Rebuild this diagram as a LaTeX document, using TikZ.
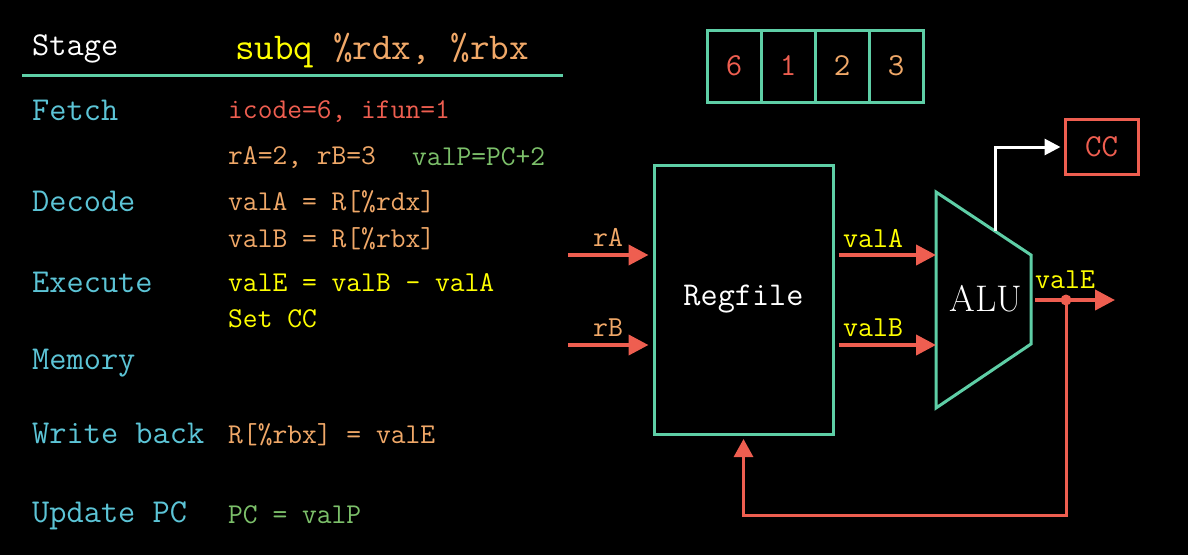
\documentclass[tikz,border=0pt]{standalone}
\usepackage{tikz}
\usetikzlibrary{arrows.meta}
\usepackage{xcolor}
\definecolor{lineteal}{RGB}{94,206,166}
\definecolor{stagecyan}{RGB}{92,196,214}
\definecolor{sigred}{RGB}{238,94,80}
\definecolor{sigorange}{RGB}{240,168,104}
\definecolor{sigyellow}{RGB}{255,255,0}
\definecolor{siggreen}{RGB}{124,192,106}

\begin{document}
\begin{tikzpicture}[x=1pt,y=-1pt]
  \tikzset{stagename/.style={anchor=base west,inner sep=0pt,text=stagecyan,font=\ttfamily\fontsize{33.4}{40}\selectfont}}
  \tikzset{stageval/.style={anchor=base west,inner sep=0pt,font=\ttfamily\fontsize{28.7}{34}\selectfont}}
  \tikzset{unitbox/.style={draw=lineteal,line width=3pt,inner sep=0pt}}
  \tikzset{sigwire/.style={draw=sigred,line width=4pt,-{Triangle[length=20pt,width=20pt]}}}
  \tikzset{fbwire/.style={draw=sigred,line width=3pt,-{Triangle[length=18pt,width=19pt]}}}
  \tikzset{siglabel/.style={inner sep=0pt,font=\ttfamily\fontsize{29}{34}\selectfont}}
  \fill[black] (0,0) rectangle (1188,555);
  \useasboundingbox (0,0) rectangle (1188,555);
  % stage table
  \node[stagename,text=white] (stagehead) at (32,55) {Stage};
  \node[anchor=base west,inner sep=0pt,font=\ttfamily\fontsize{38}{45}\selectfont] (instr) at (235,59)
    {\textcolor{sigyellow}{subq} \textcolor{sigorange}{\%rdx, \%rbx}};
  \coordinate (hrulel) at (22,75);
  \coordinate (hruler) at (563,75);
  \draw[lineteal,line width=3pt] (hrulel) -- (hruler);
  \node[stagename] (fetch) at (32,120) {Fetch};
  \node[stagename] (decode) at (32,211) {Decode};
  \node[stagename] (execute) at (32,292) {Execute};
  \node[stagename] (memory) at (32,369) {Memory};
  \node[stagename] (writeback) at (32,443) {Write back};
  \node[stagename] (updatepc) at (32,522) {Update PC};
  \node[stageval,text=sigred] (fetchA) at (228,118) {icode=6, ifun=1};
  \node[stageval,text=sigorange] (fetchB) at (228,164) {rA=2, rB=3};
  \node[stageval,text=siggreen] (fetchP) at (412,165) {valP=PC+2};
  \node[stageval,text=sigorange] (decodeA) at (228,210) {valA = R[\%rdx]};
  \node[stageval,text=sigorange] (decodeB) at (228,247) {valB = R[\%rbx]};
  \node[stageval,text=sigyellow] (executeE) at (228,291) {valE = valB - valA};
  \node[stageval,text=sigyellow] (executeCC) at (228,327) {Set CC};
  \node[stageval,text=sigorange] (writebackE) at (228,443) {R[\%rbx] = valE};
  \node[stageval,text=siggreen] (updatepcP) at (228,523) {PC = valP};
  % instruction bytes
  \foreach \d/\c [count=\i] in {6/sigred,1/sigred,2/sigorange,3/sigorange}
    \node[unitbox,minimum width=54pt,minimum height=72pt,text=\c,font=\ttfamily\fontsize{32}{38}\selectfont] (icell\i) at ({680+54*\i},66) {\d};
  % register file and ALU
  \node[unitbox,minimum width=179pt,minimum height=269pt,text=white,font=\ttfamily\fontsize{33.3}{40}\selectfont] (reg) at (743.5,299.5) {Regfile};
  \coordinate (alutl) at (936,192);
  \coordinate (alutr) at (1031,255);
  \coordinate (alubr) at (1031,344);
  \coordinate (alubl) at (936,408);
  \coordinate (alutap) at (995,231);
  \draw[lineteal,line width=3pt] (alutl) -- (alutr) -- (alubr) -- (alubl) -- cycle;
  \node[text=white,font=\rmfamily\fontsize{37}{44}\selectfont] (alu) at (986,299) {ALU};
  \node[draw=sigred,line width=3pt,minimum width=73pt,minimum height=55pt,text=sigred,font=\ttfamily\fontsize{32}{38}\selectfont] (cc) at (1101.5,147) {CC};
  % wires
  \coordinate (rAin) at (568,255);
  \coordinate (rBin) at (568,345);
  \coordinate (valEout) at (1115,300);
  \coordinate (fbturn) at (1066,515);
  \draw[sigwire,shorten >=4pt] (rAin) -- (rAin -| reg.west);
  \draw[sigwire,shorten >=4pt] (rBin) -- (rBin -| reg.west);
  \draw[sigwire,shorten <=4pt] (rAin -| reg.east) -- (rAin -| alutl);
  \draw[sigwire,shorten <=4pt] (rBin -| reg.east) -- (rBin -| alutl);
  \draw[sigwire,shorten <=4pt] (valEout -| alubr) -- (valEout);
  \node[circle,fill=sigred,inner sep=0pt,minimum size=11pt] (tap) at (1066,300) {};
  \draw[fbwire] (tap.center) -- (fbturn) -| ([yshift=-3.5pt]reg.south);
  \draw[white,line width=3pt,-{Triangle[length=16pt,width=16pt]},shorten >=3pt] (alutap) |- (cc.west);
  \node[siglabel,anchor=base,text=sigorange] (rAlabel) at (608,246) {rA};
  \node[siglabel,anchor=base,text=sigorange] (rBlabel) at (608,336) {rB};
  \node[siglabel,anchor=base west,text=sigyellow] (valAlabel) at (843,247) {valA};
  \node[siglabel,anchor=base west,text=sigyellow] (valBlabel) at (843,336) {valB};
  \node[siglabel,anchor=base west,text=sigyellow] (valElabel) at (1035,288) {valE};
\end{tikzpicture}
\end{document}
